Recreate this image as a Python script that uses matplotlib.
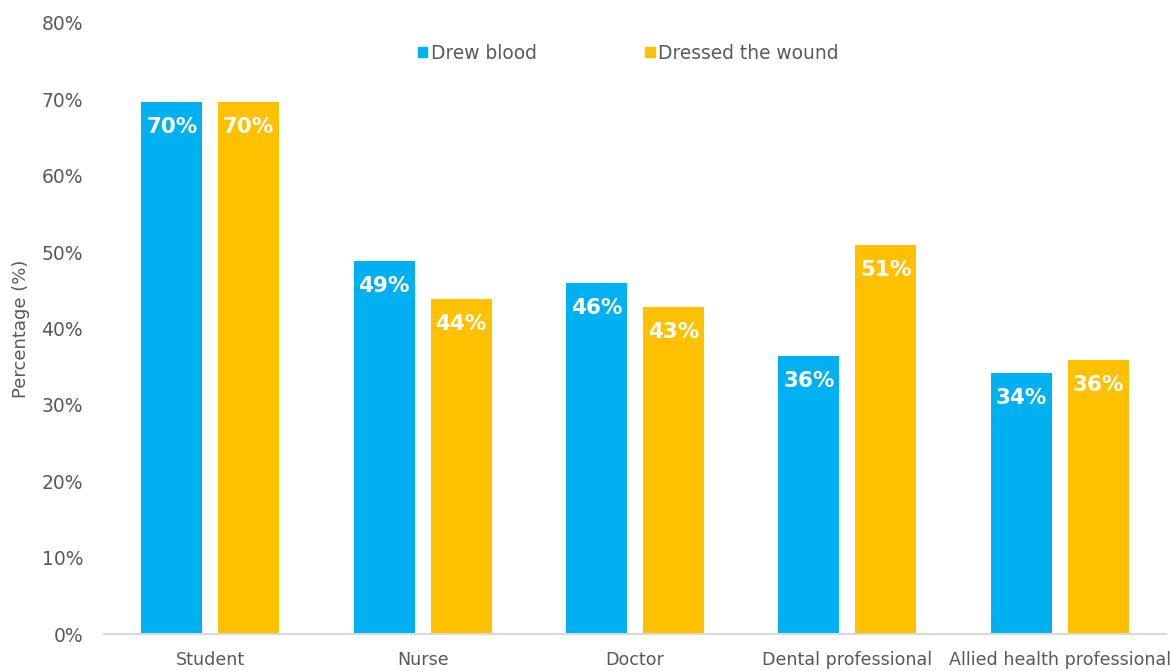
import matplotlib
matplotlib.use("Agg")
import matplotlib.pyplot as plt
import numpy as np
from matplotlib.patches import Patch

categories = ["Student", "Nurse", "Doctor", "Dental professional", "Allied health professional"]
drew_blood = [69.6, 48.8, 45.9, 36.4, 34.2]
dressed_wound = [69.6, 43.8, 42.8, 50.9, 35.9]
series_names = ["Drew blood", "Dressed the wound"]
colors = ["#00B0F0", "#FFC000"]
yticks = [0, 10, 20, 30, 40, 50, 60, 70, 80]

fig = plt.figure(figsize=(11.7, 6.71), dpi=100)
ax = fig.add_axes([104/1170, 37/671, 1062/1170, 611/671])

x = np.arange(len(categories))
w = 0.287
off = 0.181
grey = "#595959"
for vals, dx, c in [(drew_blood, -off, colors[0]), (dressed_wound, off, colors[1])]:
    bars = ax.bar(x + dx, vals, width=w, color=c)
    for b, v in zip(bars, vals):
        ax.annotate(f"{v:.0f}%", (b.get_x() + b.get_width()/2, v), xytext=(0, -18),
                    textcoords="offset points", ha="center", va="center",
                    color="white", fontweight="bold", fontsize=15.5)

ax.set_xlim(-0.5, len(categories) - 0.5)
ax.set_ylim(0, 80)
ax.set_yticks(yticks)
ax.set_yticklabels([f"{t}%" for t in yticks], fontsize=13.5, color=grey)
ax.set_xticks(x)
ax.set_xticklabels(categories, fontsize=12.6, color=grey)
ax.tick_params(axis="x", length=0, pad=12)
ax.tick_params(axis="y", length=0, pad=15)
for s in ["top", "right", "left"]:
    ax.spines[s].set_visible(False)
ax.spines["bottom"].set_color("#D9D9D9")
ax.spines["bottom"].set_linewidth(1.5)
ax.set_ylabel("Percentage (%)", fontsize=13, color=grey, labelpad=8)

handles = [Patch(color=c) for c in colors]
fig.legend(handles, series_names, loc="center", bbox_to_anchor=(0.537, 0.921), ncol=2,
           frameon=False, fontsize=13.4, labelcolor=grey, handlelength=0.5, handleheight=0.5,
           handletextpad=0.2, columnspacing=5.85)

fig.savefig("out.png", dpi=100)
